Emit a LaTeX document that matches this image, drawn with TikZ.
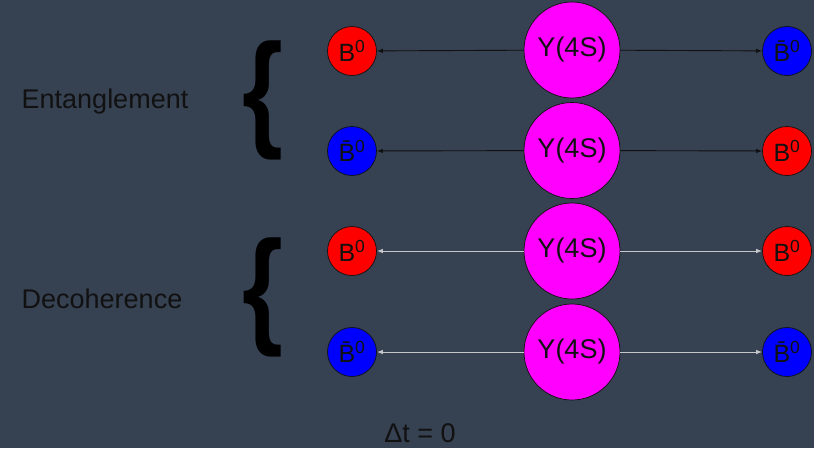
\documentclass[tikz,border=0pt]{standalone}
\usepackage{fontspec}
\setmainfont{Liberation Sans}
\usetikzlibrary{arrows.meta}
\definecolor{slate}{HTML}{364152}
\definecolor{ink}{HTML}{111111}
\definecolor{pale}{HTML}{C4C6C9}
\definecolor{upsfill}{HTML}{FF00FF}
\definecolor{bred}{HTML}{FF0000}
\definecolor{bblue}{HTML}{0000FF}
\tikzset{
  ups/.style={circle, fill=upsfill, draw=ink, line width=0.7pt, minimum size=96pt, inner sep=0pt,
    font=\fontsize{27}{30}\selectfont, text=ink},
  meson/.style={circle, draw=ink, line width=0.7pt, minimum size=49pt, inner sep=0pt,
    font=\fontsize{25}{28}\selectfont, text=ink},
  bz/.style={meson, fill=bred},
  bbar/.style={meson, fill=bblue},
  label/.style={font=\fontsize{27}{30}\selectfont, text=ink, inner sep=0pt},
  brace/.style={font=\fontsize{128}{140}\selectfont\bfseries, text=black, inner sep=0pt, xscale=0.82},
  decay/.style={line width=0.9pt, -{Latex[length=6pt,width=4.5pt]}},
}
\newcommand{\Bz}{B\textsuperscript{0}}
\newcommand{\Bb}{\={B}\textsuperscript{0}}
\begin{document}
\begin{tikzpicture}[x=1pt,y=-1pt]
  \fill[slate] (0,0) rectangle (814,448);
  \useasboundingbox (0,0) rectangle (814,448);

  % row 1: B0 / anti-B0 (entangled)
  \node[ups] (u1) at (572,50) {Υ(4S)};
  \node[bz] (l1) at (352,51) {\Bz};
  \node[bbar] (r1) at (787,51) {\Bb};
  % row 2
  \node[ups] (u2) at (572,150.5) {Υ(4S)};
  \node[bbar] (l2) at (352,151) {\Bb};
  \node[bz] (r2) at (787,151) {\Bz};
  % row 3: decoherent pairs
  \node[ups] (u3) at (572,251) {Υ(4S)};
  \node[bz] (l3) at (352,251) {\Bz};
  \node[bz] (r3) at (787,251) {\Bz};
  % row 4
  \node[ups] (u4) at (572,352) {Υ(4S)};
  \node[bbar] (l4) at (352,352) {\Bb};
  \node[bbar] (r4) at (787,352) {\Bb};

  \draw[decay, ink] (u1) -- (l1);
  \draw[decay, ink] (u1) -- (r1);
  \draw[decay, ink] (u2) -- (l2);
  \draw[decay, ink] (u2) -- (r2);
  \draw[decay, pale] (u3) -- (l3);
  \draw[decay, pale] (u3) -- (r3);
  \draw[decay, pale] (u4) -- (l4);
  \draw[decay, pale] (u4) -- (r4);

  % group braces and labels
  \node[brace] (b1) at (263,100) {\{};
  \node[brace] (b2) at (263,297) {\{};
  \node[label] (ent) at (105,102) {Entanglement};
  \node[label] (dec) at (102,299) {Decoherence};
  \node[label] (dt) at (420,433) {Δt = 0};
\end{tikzpicture}
\end{document}
